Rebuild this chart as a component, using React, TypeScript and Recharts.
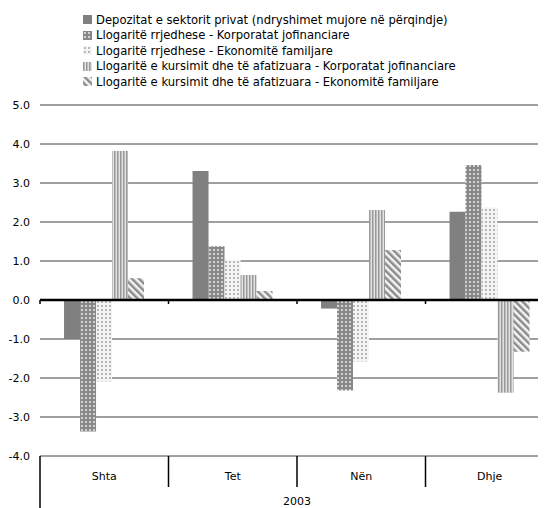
import React from "react";
import { BarChart, Bar, XAxis, YAxis, CartesianGrid, ReferenceLine } from "recharts";

const months = ["Shta", "Tet", "Nën", "Dhje"];
const depozitat = [-1.0, 3.31, -0.22, 2.26];
const rrjedheseKorp = [-3.37, 1.38, -2.32, 3.46];
const rrjedheseEkon = [-2.09, 1.03, -1.58, 2.38];
const kursimitKorp = [3.82, 0.64, 2.31, -2.38];
const kursimitEkon = [0.56, 0.23, 1.28, -1.33];
const yTicks = [-4, -3, -2, -1, 0, 1, 2, 3, 4, 5];
const yearLabel = "2003";

const seriesNames = [
  "Depozitat e sektorit privat (ndryshimet mujore në përqindje)",
  "Llogaritë rrjedhese - Korporatat jofinanciare",
  "Llogaritë rrjedhese - Ekonomitë familjare",
  "Llogaritë e kursimit dhe të afatizuara - Korporatat jofinanciare",
  "Llogaritë e kursimit dhe të afatizuara - Ekonomitë familjare",
];
const fills = ["#808080", "url(#pDark)", "url(#pLight)", "url(#pVert)", "url(#pDiag)"];
const keys = ["dep", "rk", "re", "kk", "ke"];

const data = months.map((m, i) => ({
  month: m,
  dep: depozitat[i],
  rk: rrjedheseKorp[i],
  re: rrjedheseEkon[i],
  kk: kursimitKorp[i],
  ke: kursimitEkon[i],
}));

const FONT = "'DejaVu Sans', Verdana, sans-serif";
const CHART_W = 560;
const CHART_H = 508;
const MARGIN = { top: 105, right: 6, bottom: 0, left: 0 };
const Y_W = 40;
const X_H = 52;
const PLOT_W = CHART_W - MARGIN.left - MARGIN.right - Y_W;
const PLOT_H = CHART_H - MARGIN.top - MARGIN.bottom - X_H;
const Y_MIN = -4;
const Y_MAX = 5;

const Patterns = () => (
  <svg width={0} height={0} style={{ position: "absolute" }}>
    <defs>
      <pattern id="pDark" width={4} height={4} patternUnits="userSpaceOnUse">
        <rect width={4} height={4} fill="#888888" />
        <rect x={1} y={1} width={2} height={2} fill="#d2d2d2" />
      </pattern>
      <pattern id="pLight" width={4} height={4} patternUnits="userSpaceOnUse">
        <rect width={4} height={4} fill="#f4f4f4" />
        <rect x={1} y={1} width={2} height={2} fill="#b8b8b8" />
      </pattern>
      <pattern id="pVert" width={3} height={3} patternUnits="userSpaceOnUse">
        <rect width={3} height={3} fill="#e2e2e2" />
        <rect width={1.5} height={3} fill="#999999" />
      </pattern>
      <pattern id="pDiag" width={5} height={5} patternUnits="userSpaceOnUse" patternTransform="rotate(-45)">
        <rect width={5} height={5} fill="#f4f4f4" />
        <rect width={2.5} height={5} fill="#8c8c8c" />
      </pattern>
    </defs>
  </svg>
);

const CategoryTick = ({ x, y, payload, index }: any) => {
  const band = PLOT_W / months.length;
  const left = x - band / 2;
  const zeroY = y - ((0 - Y_MIN) / (Y_MAX - Y_MIN)) * PLOT_H;
  return (
    <g>
      <line x1={left} x2={left} y1={zeroY} y2={zeroY + 4} stroke="#000" strokeWidth={1.5} />
      <line x1={left} x2={left} y1={y} y2={index === 0 ? y + 52 : y + 31} stroke="#000" strokeWidth={1.5} />
      <text x={x} y={y + 24} textAnchor="middle" fontSize={11} fontFamily={FONT} fill="#000">
        {payload.value}
      </text>
      {index === 0 && (
        <text x={left + PLOT_W / 2} y={y + 49} textAnchor="middle" fontSize={11} fontFamily={FONT} fill="#000">
          {yearLabel}
        </text>
      )}
    </g>
  );
};

const Swatch = ({ fill }: { fill: string }) => (
  <svg width={9} height={9} style={{ marginRight: 4, flexShrink: 0 }}>
    <rect width={9} height={9} fill={fill} />
  </svg>
);

export default function App() {
  return (
    <div
      style={{
        position: "relative",
        marginLeft: -8,
        marginTop: -8,
        width: 546,
        height: 508,
        overflow: "hidden",
        background: "#fff",
        fontFamily: FONT,
      }}
    >
      <Patterns />
      <div style={{ position: "absolute", left: 83, top: 12, fontSize: 11.6, color: "#000" }}>
        {seriesNames.map((name, i) => (
          <div key={name} style={{ display: "flex", alignItems: "center", height: 15.5, whiteSpace: "nowrap" }}>
            <Swatch fill={fills[i]} />
            <span>{name}</span>
          </div>
        ))}
      </div>
      <div style={{ position: "absolute", left: 0, top: 0 }}>
        <BarChart
          width={CHART_W}
          height={CHART_H}
          data={data}
          margin={MARGIN}
          barCategoryGap="18.7%"
          barGap={0}
        >
          <CartesianGrid horizontal vertical={false} stroke="#404040" strokeWidth={1} />
          <XAxis
            dataKey="month"
            height={X_H}
            axisLine={false}
            tickLine={false}
            tickSize={0}
            tickMargin={0}
            interval={0}
            tick={<CategoryTick />}
          />
          <YAxis
            width={Y_W}
            domain={[Y_MIN, Y_MAX]}
            ticks={yTicks}
            interval={0}
            axisLine={false}
            tickLine={false}
            tickMargin={4}
            tickFormatter={(v: number) => v.toFixed(1)}
            tick={{ fontSize: 11, fontFamily: FONT, fill: "#000" }}
          />
          {keys.map((k, i) => (
            <Bar key={k} dataKey={k} name={seriesNames[i]} fill={fills[i]} isAnimationActive={false} />
          ))}
          <ReferenceLine y={0} stroke="#000" strokeWidth={2.5} />
        </BarChart>
      </div>
    </div>
  );
}
